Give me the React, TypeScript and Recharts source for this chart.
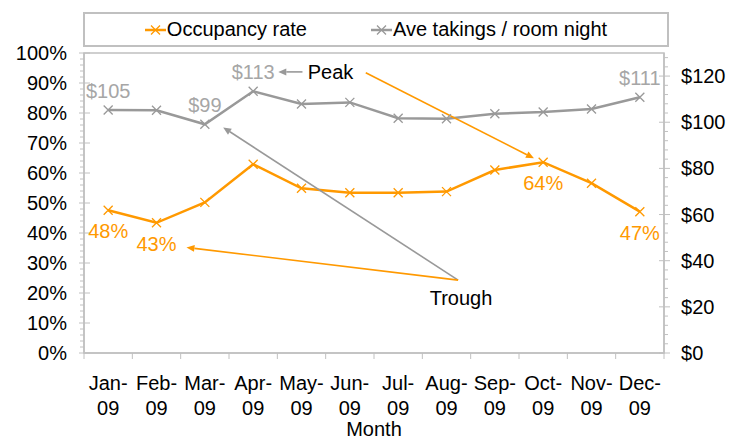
import React from 'react';
import {
  LineChart,
  Line,
  XAxis,
  YAxis,
  LabelList,
  ReferenceLine,
  ReferenceDot,
  ReferenceArea,
} from 'recharts';

const months = ['Jan-09', 'Feb-09', 'Mar-09', 'Apr-09', 'May-09', 'Jun-09', 'Jul-09', 'Aug-09', 'Sep-09', 'Oct-09', 'Nov-09', 'Dec-09'];
const occupancy = [47.6, 43.4, 50.2, 62.9, 54.9, 53.4, 53.4, 53.8, 61.0, 63.6, 56.6, 47.1];
const takings = [105.3, 105.2, 99.1, 113.4, 107.9, 108.6, 101.7, 101.5, 103.7, 104.4, 105.7, 110.8];

const occLabelMonths = ['Jan-09', 'Feb-09', 'Oct-09', 'Dec-09'];
const takeLabelMonths = ['Jan-09', 'Mar-09', 'Apr-09', 'Dec-09'];

const occTicks = Array.from({ length: 51 }, (_, i) => i * 2); // 0..100, minor every 2%
const takeTicks = Array.from({ length: 33 }, (_, i) => i * 4); // 0..128, minor every $4
const monthTicks = Array.from({ length: 25 }, (_, i) => i / 2 - 0.5);

// annotations, in data units (x = month index, y = occupancy %)
const peakText = { x: 4.6, y: 93.8 };
const troughText = { x: 7.3, y: 18.3 };
const arrows = [
  { from: { x: 4.02, y: 93.7 }, to: { x: 3.52, y: 93.7 }, kind: 'take' },
  { from: { x: 5.33, y: 93.4 }, to: { x: 8.81, y: 64.9 }, kind: 'occ' },
  { from: { x: 7.24, y: 24.3 }, to: { x: 2.38, y: 75.2 }, kind: 'take' },
  { from: { x: 7.24, y: 24.3 }, to: { x: 1.62, y: 35.2 }, kind: 'occ' },
];

const ORANGE = '#FF9900';
const GRAY = '#999999';
const LABEL_GRAY = '#a6a6a6';
const AXIS = '#c0c0c0';
const FONT = '"Liberation Sans", Arial, sans-serif';
const FS = 20;

const rows = months.map((m, i) => ({ idx: i, month: m, occ: occupancy[i], take: takings[i] }));

const series = [
  { key: 'occ', name: 'Occupancy rate', color: ORANGE },
  { key: 'take', name: 'Ave takings / room night', color: GRAY },
];

const XDot = (color: string) => (props: any) => {
  const { cx, cy } = props;
  if (cx == null || cy == null) return null;
  const s = 4.5;
  return (
    <path
      d={`M${cx - s},${cy - s}L${cx + s},${cy + s}M${cx - s},${cy + s}L${cx + s},${cy - s}`}
      stroke={color}
      strokeWidth={1.3}
      fill="none"
    />
  );
};

const pointLabel = (shown: string[], color: string, fmt: (v: number) => string, below: boolean) => (props: any) => {
  const x = props.x ?? props.viewBox?.x;
  const y = props.y ?? props.viewBox?.y;
  const i = props.index;
  if (!shown.includes(months[i])) return null;
  return (
    <text x={x} y={below ? y + 28 : y - 12} textAnchor="middle" fill={color} fontSize={FS} fontFamily={FONT}>
      {fmt(props.value)}
    </text>
  );
};

const OccTick = (props: any) => {
  const { x, y, payload } = props;
  const v = payload.value;
  const major = v % 10 === 0;
  return (
    <g>
      <line x1={major ? x - 5 : x - 4} x2={major ? x + 6 : x} y1={y} y2={y} stroke={AXIS} />
      {major && (
        <text x={x - 17} y={y + 7} textAnchor="end" fill="#000" fontSize={FS} fontFamily={FONT}>
          {v}%
        </text>
      )}
    </g>
  );
};

const TakeTick = (props: any) => {
  const { x, y, payload } = props;
  const v = payload.value;
  const major = v % 20 === 0;
  return (
    <g>
      <line x1={major ? x - 5 : x} x2={major ? x + 6 : x + 4} y1={y} y2={y} stroke={AXIS} />
      {major && (
        <text x={x + 17} y={y + 7} textAnchor="start" fill="#000" fontSize={FS} fontFamily={FONT}>
          ${v}
        </text>
      )}
    </g>
  );
};

const MonthTick = (props: any) => {
  const { x, y, payload } = props;
  const v = payload.value;
  if (!Number.isInteger(v)) {
    return <line x1={x} x2={x} y1={y} y2={y + 6} stroke={AXIS} />;
  }
  const [mon, yr] = months[v].split('-');
  return (
    <text textAnchor="middle" fill="#000" fontSize={FS} fontFamily={FONT}>
      <tspan x={x} y={y + 37}>{mon}-</tspan>
      <tspan x={x} y={y + 62}>{yr}</tspan>
    </text>
  );
};

const arrowShape = (color: string) => (props: any) => {
  const { x1, y1, x2, y2 } = props;
  const a = Math.atan2(y2 - y1, x2 - x1);
  const len = 8;
  const w = 3.5;
  const bx = x2 - len * Math.cos(a);
  const by = y2 - len * Math.sin(a);
  const pts = `${x2},${y2} ${bx - w * Math.sin(a)},${by + w * Math.cos(a)} ${bx + w * Math.sin(a)},${by - w * Math.cos(a)}`;
  return (
    <g>
      <line x1={x1} y1={y1} x2={bx} y2={by} stroke={color} strokeWidth={1.6} />
      <polygon points={pts} fill={color} />
    </g>
  );
};

const textShape = (text: string) => (props: any) => (
  <text x={props.cx} y={props.cy + 7} textAnchor="middle" fill="#000" fontSize={FS} fontFamily={FONT}>
    {text}
  </text>
);

const Legend = () => (
  <div
    style={{
      position: 'absolute',
      left: 83,
      top: 12,
      width: 586,
      height: 35,
      boxSizing: 'border-box',
      border: `2px solid ${AXIS}`,
      background: '#fff',
      display: 'flex',
      justifyContent: 'center',
      alignItems: 'center',
      gap: 64,
      fontFamily: FONT,
      fontSize: FS,
    }}
  >
    {series.map((s) => (
      <div key={s.key} style={{ display: 'flex', alignItems: 'center' }}>
        <svg width={21} height={12}>
          <line x1={0} x2={21} y1={6} y2={6} stroke={s.color} strokeWidth={2.5} />
          <path d="M6,1.5L15,10.5M6,10.5L15,1.5" stroke={s.color} strokeWidth={1.3} />
        </svg>
        <span style={{ marginLeft: 1, color: '#000' }}>{s.name}</span>
      </div>
    ))}
  </div>
);

export default function App() {
  return (
    <div style={{ position: 'absolute', left: 0, top: 0, width: 737, height: 441, background: '#fff' }}>
      <LineChart width={737} height={441} data={rows} margin={{ top: 53, right: 0, bottom: 0, left: 0 }}>
        <XAxis
          type="number"
          dataKey="idx"
          domain={[-0.5, 11.5]}
          ticks={monthTicks}
          interval={0}
          tick={<MonthTick />}
          tickLine={false}
          tickSize={0}
          tickMargin={0}
          axisLine={{ stroke: AXIS, strokeWidth: 1.5 }}
          height={88}
          label={{ value: 'Month', position: 'insideBottom', offset: 5, fill: '#000', fontSize: FS, fontFamily: FONT }}
        />
        <YAxis
          yAxisId="occ"
          width={84}
          domain={[0, 100]}
          ticks={occTicks}
          interval={0}
          tick={<OccTick />}
          tickLine={false}
          tickSize={0}
          tickMargin={0}
          axisLine={{ stroke: AXIS, strokeWidth: 1.5 }}
        />
        <YAxis
          yAxisId="take"
          orientation="right"
          width={73}
          domain={[0, 130]}
          ticks={takeTicks}
          interval={0}
          tick={<TakeTick />}
          tickLine={false}
          tickSize={0}
          tickMargin={0}
          axisLine={{ stroke: AXIS, strokeWidth: 1.5 }}
        />
        <ReferenceArea yAxisId="occ" x1={-0.5} x2={11.5} y1={0} y2={100} fill="none" stroke={AXIS} strokeWidth={1.5} />
        <Line
          yAxisId="take"
          dataKey="take"
          stroke={GRAY}
          strokeWidth={2.5}
          dot={XDot(GRAY)}
          activeDot={false}
          isAnimationActive={false}
        >
          <LabelList dataKey="take" content={pointLabel(takeLabelMonths, LABEL_GRAY, (v) => `$${Math.round(v)}`, false)} />
        </Line>
        <Line
          yAxisId="occ"
          dataKey="occ"
          stroke={ORANGE}
          strokeWidth={2.5}
          dot={XDot(ORANGE)}
          activeDot={false}
          isAnimationActive={false}
        >
          <LabelList dataKey="occ" content={pointLabel(occLabelMonths, ORANGE, (v) => `${Math.round(v)}%`, true)} />
        </Line>
        {arrows.map((a, i) => (
          <ReferenceLine
            key={i}
            yAxisId="occ"
            segment={[a.from, a.to]}
            ifOverflow="visible"
            shape={arrowShape(a.kind === 'occ' ? ORANGE : GRAY)}
          />
        ))}
        <ReferenceDot yAxisId="occ" x={peakText.x} y={peakText.y} r={1} ifOverflow="visible" shape={textShape('Peak')} />
        <ReferenceDot yAxisId="occ" x={troughText.x} y={troughText.y} r={1} ifOverflow="visible" shape={textShape('Trough')} />
      </LineChart>
      <Legend />
    </div>
  );
}
